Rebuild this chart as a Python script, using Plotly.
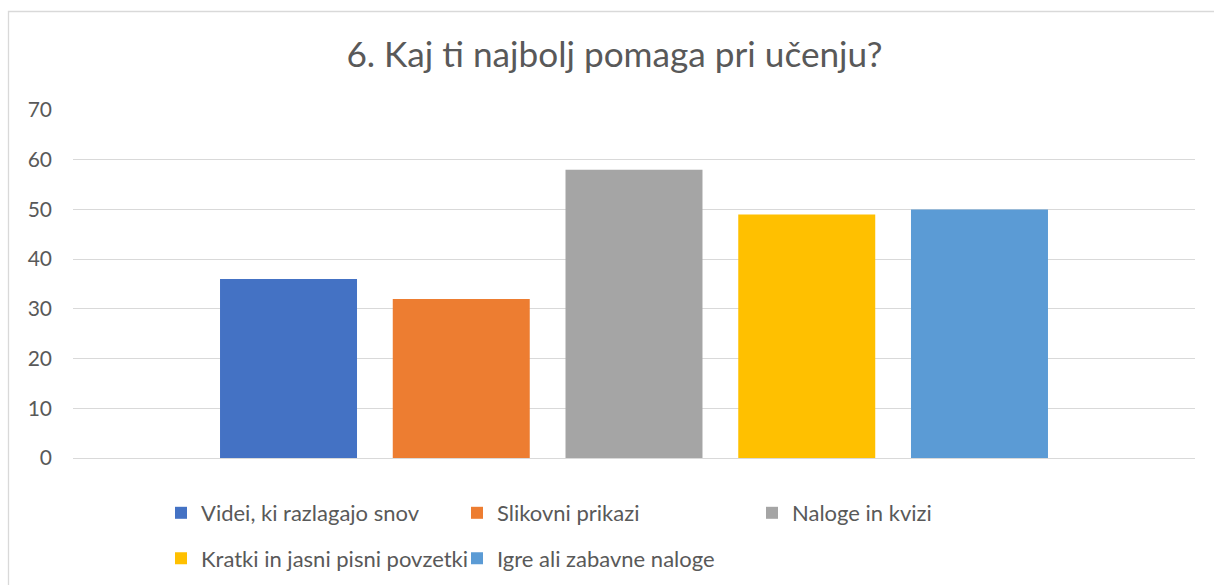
import plotly.graph_objects as go

title_text = "6. Kaj ti najbolj pomaga pri učenju?"
series_names = [
    "Videi, ki razlagajo snov",
    "Slikovni prikazi",
    "Naloge in kvizi",
    "Kratki in jasni pisni povzetki",
    "Igre ali zabavne naloge",
]
series_values = [36, 32, 58, 49, 50]
series_colors = ["#4472C4", "#ED7D31", "#A5A5A5", "#FFC000", "#5B9BD5"]
y_ticks = [0, 10, 20, 30, 40, 50, 60, 70]

W, H = 1214, 585
ML, MR, MT, MB = 73, 19, 110, 127
PW, PH = W - ML - MR, H - MT - MB

def px_x(p):
    return (p - ML) / PW

def px_y(p):
    return (H - MB - p) / PH

FONT = "Lato, Open Sans, Liberation Sans, sans-serif"
TXT = "#595959"

fig = go.Figure()
legend_keys = ["legend", "legend2", "legend3", "legend4", "legend5"]
for name, val, col, lk in zip(series_names, series_values, series_colors, legend_keys):
    fig.add_trace(go.Bar(x=[""], y=[val], name=name, marker=dict(color=col, line=dict(width=0)),
                         legend=lk))

# legend grid positions (left px of legend box, vertical centre px)
leg_pos = [(161, 513), (457, 513), (752, 513), (161, 558.5), (457, 558.5)]
leg_layout = {}
for lk, (lx, ly) in zip(legend_keys, leg_pos):
    leg_layout[lk] = dict(
        x=px_x(lx), y=px_y(ly), xanchor="left", yanchor="middle", orientation="h",
        font=dict(family=FONT, size=22, color=TXT), bgcolor="rgba(0,0,0,0)",
        borderwidth=0, itemclick=False,
    )

fig.update_layout(
    width=W, height=H,
    margin=dict(l=ML, r=MR, t=MT, b=MB, pad=0, autoexpand=False),
    paper_bgcolor="white", plot_bgcolor="white",
    barmode="group", bargap=0.2302, bargroupgap=0.207,
    title=dict(text=title_text, x=614.5 / W, xref="container", xanchor="center",
               y=(H - 54.5) / H, yref="container", yanchor="middle",
               font=dict(family=FONT, size=35.2, color=TXT)),
    xaxis=dict(showticklabels=False, showgrid=False, zeroline=False, showline=False, ticks=""),
    yaxis=dict(range=[0, 70], tickvals=y_ticks, ticktext=[str(v) for v in y_ticks],
               showgrid=True, gridcolor="#D9D9D9", gridwidth=1.3,
               zeroline=True, zerolinecolor="#D9D9D9", zerolinewidth=1.3,
               showline=False, ticks="", ticklabelstandoff=20,
               tickfont=dict(family=FONT, size=21, color=TXT)),
    showlegend=True,
    shapes=[dict(type="rect", xref="paper", yref="paper",
                 x0=px_x(8.5), y0=px_y(11.5), x1=px_x(1230), y1=px_y(600),
                 line=dict(color="#D9D9D9", width=1.3), fillcolor="rgba(0,0,0,0)", layer="below")],
    **leg_layout,
)

fig.write_html("out.html")
